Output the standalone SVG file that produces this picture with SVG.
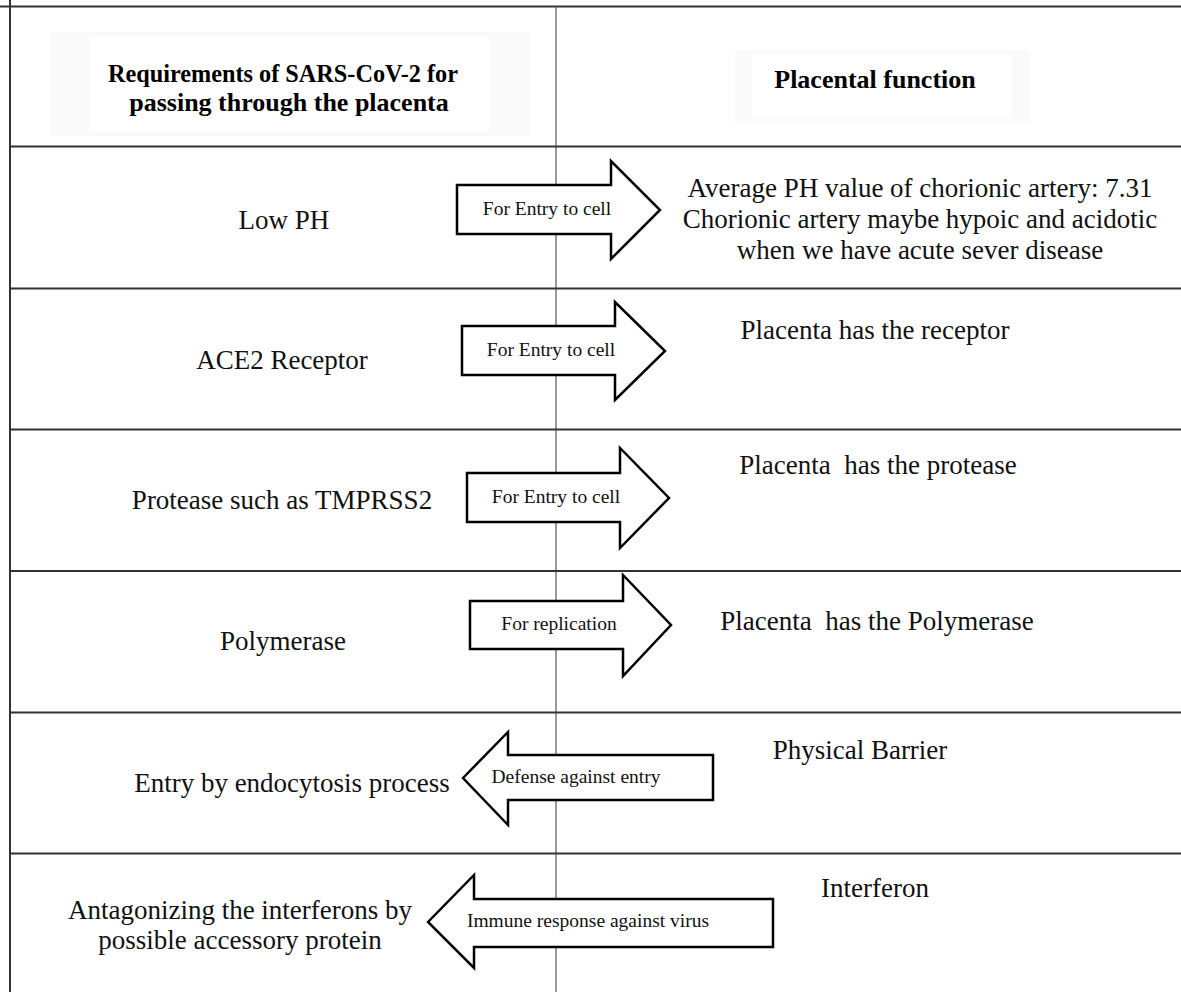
<svg xmlns="http://www.w3.org/2000/svg" width="1181" height="992" viewBox="0 0 1181 992">
<style>
.grid{stroke:#333;stroke-width:2;fill:none}
.vgrid{stroke:#555;stroke-width:1.2;fill:none}
.arrow{fill:#fff;stroke:#000;stroke-width:2.5;stroke-linejoin:miter}
.hd{font-family:"Liberation Serif","Times New Roman",serif;font-weight:bold;font-size:26px;fill:#000;text-anchor:middle}
.t{font-family:"Liberation Serif","Times New Roman",serif;font-size:27px;fill:#111;text-anchor:middle}
.lb{font-family:"Liberation Serif","Times New Roman",serif;font-size:19.5px;fill:#111;text-anchor:middle}
.hbox{fill:#fafafa}
.hin{fill:#fff}
</style>
<rect width="1181" height="992" fill="#fff"/>
<g id="header">
<rect class="hbox" x="50" y="32" width="480" height="104"/>
<rect class="hin" x="90" y="36" width="400" height="96"/>
<rect class="hbox" x="735" y="50" width="294" height="73"/>
<rect class="hin" x="752" y="55" width="260" height="64"/>
<text class="hd" x="283" y="82" textLength="350" lengthAdjust="spacingAndGlyphs">Requirements of SARS-CoV-2 for</text>
<text class="hd" x="289" y="111">passing through the placenta</text>
<text class="hd" x="875" y="88">Placental function</text>
</g>
<g id="connectors">
<line class="grid" x1="0" y1="6.5" x2="1181" y2="6.5"/>
<line class="grid" x1="10" y1="0" x2="10" y2="992"/>
<line class="vgrid" x1="556" y1="6" x2="556" y2="992"/>
<line class="grid" x1="10" y1="146.5" x2="1181" y2="146.5"/>
<line class="grid" x1="10" y1="288.5" x2="1181" y2="288.5"/>
<line class="grid" x1="10" y1="429.5" x2="1181" y2="429.5"/>
<line class="grid" x1="10" y1="571" x2="1181" y2="571"/>
<line class="grid" x1="10" y1="712.5" x2="1181" y2="712.5"/>
<line class="grid" x1="10" y1="853.5" x2="1181" y2="853.5"/>
</g>
<g id="row1">
<text class="t" x="284" y="229">Low PH</text>
<polygon class="arrow" points="457,185 611,185 611,161 660,210 611,259 611,234 457,234"/>
<text class="lb" x="547" y="215">For Entry to cell</text>
<text class="t" x="920" y="197">Average PH value of chorionic artery: 7.31</text>
<text class="t" x="920" y="228">Chorionic artery maybe hypoic and acidotic</text>
<text class="t" x="920" y="259">when we have acute sever disease</text>
</g>
<g id="row2">
<text class="t" x="282" y="369">ACE2 Receptor</text>
<polygon class="arrow" points="462,326 615,326 615,302 665,351 615,400 615,375 462,375"/>
<text class="lb" x="551" y="356">For Entry to cell</text>
<text class="t" x="875" y="339">Placenta has the receptor</text>
</g>
<g id="row3">
<text class="t" x="282" y="509">Protease such as TMPRSS2</text>
<polygon class="arrow" points="467,473 620,473 620,448 669,498 620,548 620,522 467,522"/>
<text class="lb" x="556" y="503">For Entry to cell</text>
<text class="t" x="878" y="474" xml:space="preserve">Placenta  has the protease</text>
</g>
<g id="row4">
<text class="t" x="283" y="650">Polymerase</text>
<polygon class="arrow" points="470,601 623,601 623,575 671,625 623,676 623,649 470,649"/>
<text class="lb" x="559" y="630">For replication</text>
<text class="t" x="877" y="630" xml:space="preserve">Placenta  has the Polymerase</text>
</g>
<g id="row5">
<text class="t" x="292" y="792">Entry by endocytosis process</text>
<polygon class="arrow" points="463,778 508,732 508,755 713,755 713,800 508,800 508,825"/>
<text class="lb" x="576" y="783">Defense against entry</text>
<text class="t" x="860" y="759">Physical Barrier</text>
</g>
<g id="row6">
<text class="t" x="240" y="919">Antagonizing the interferons by</text>
<text class="t" x="240" y="949">possible accessory protein</text>
<polygon class="arrow" points="428,922 474,875 474,899 773,899 773,947 474,947 474,968"/>
<text class="lb" x="588" y="927">Immune response against virus</text>
<text class="t" x="875" y="897">Interferon</text>
</g>
</svg>
